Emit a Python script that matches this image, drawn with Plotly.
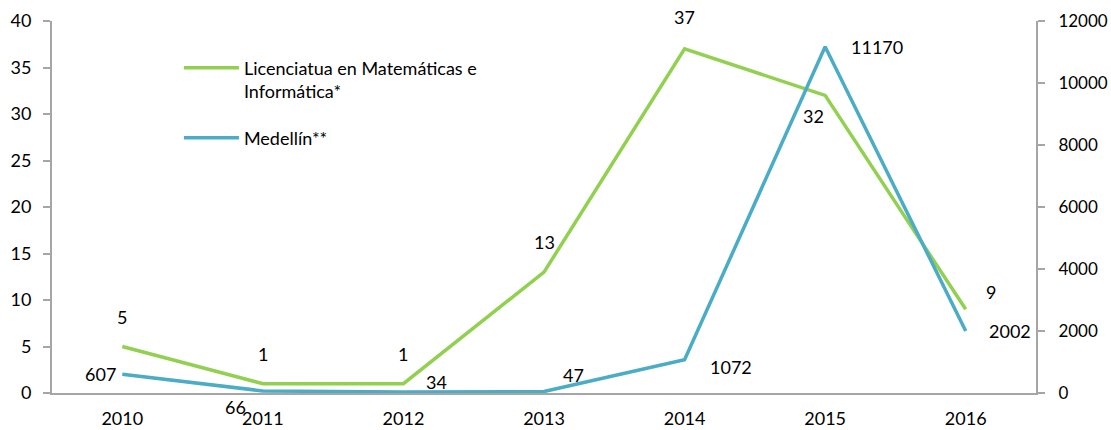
import plotly.graph_objects as go

years = ["2010", "2011", "2012", "2013", "2014", "2015", "2016"]
licenciatura = [5, 1, 1, 13, 37, 32, 9]
medellin = [607, 66, 34, 47, 1072, 11170, 2002]
left_ticks = [0, 5, 10, 15, 20, 25, 30, 35, 40]
right_ticks = [0, 2000, 4000, 6000, 8000, 10000, 12000]

GREEN = "#92D050"
BLUE = "#4BACC6"
AXIS = "#A6A6A6"
FONT = "Lato"
FS = 18

fig = go.Figure()
fig.add_trace(go.Scatter(x=years, y=licenciatura, mode="lines", legendgroup="a",
                         name="Licenciatua en Matemáticas e<br>Informática*",
                         line=dict(color=GREEN, width=3.5)))
fig.add_trace(go.Scatter(x=years, y=medellin, mode="lines", name="Medellín**",
                         legendgroup="b",
                         yaxis="y2", line=dict(color=BLUE, width=3.5)))

# label offsets (pixels) for each point
g_off = [(0, 30), (0, 30), (0, 30), (0, 30), (0, 32), (-12, -21), (25, 17)]
b_off = [(-22, 0), (-27, -16), (33, 10), (29, 17), (46, -7), (52, 0), (44, 0)]
for i, v in enumerate(licenciatura):
    fig.add_annotation(x=i, y=v, text=str(v), showarrow=False,
                       xshift=g_off[i][0], yshift=g_off[i][1],
                       font=dict(family=FONT, size=FS, color="#000"))
for i, v in enumerate(medellin):
    fig.add_annotation(x=i, y=v, yref="y2", text=str(v), showarrow=False,
                       xshift=b_off[i][0], yshift=b_off[i][1],
                       font=dict(family=FONT, size=FS, color="#000"))

fig.update_layout(
    width=1111, height=430,
    margin=dict(l=52, r=75, t=21, b=37),
    paper_bgcolor="white", plot_bgcolor="white",
    font=dict(family=FONT, size=FS, color="#000"),
    showlegend=True,
    legend=dict(x=0.129, y=0.923, xanchor="left", yanchor="top",
                bgcolor="rgba(0,0,0,0)", font=dict(size=FS), valign="top",
                tracegroupgap=20, itemwidth=55),
    xaxis=dict(type="category", range=[-0.5, 6.5], showgrid=False,
               showline=True, linecolor=AXIS, linewidth=2, ticks="",
               tickfont=dict(size=FS), zeroline=False, automargin=False,
               ticklabelstandoff=8),
    yaxis=dict(range=[0, 40], tickvals=left_ticks, showgrid=False,
               showline=True, linecolor=AXIS, linewidth=2, ticks="outside",
               ticklen=7, tickcolor=AXIS, tickwidth=2, zeroline=False,
               tickfont=dict(size=FS), automargin=False, ticklabelstandoff=8),
    yaxis2=dict(range=[0, 12000], tickvals=right_ticks, tickformat="d",
                overlaying="y", automargin=False, ticklabelstandoff=10,
                side="right", showgrid=False, showline=True, linecolor=AXIS,
                linewidth=2, ticks="outside", ticklen=7, tickcolor=AXIS,
                tickwidth=2, zeroline=False, tickfont=dict(size=17)),
)

fig.write_html(
    "out.html",
    config={"displayModeBar": False},
    post_script="document.body.style.margin='0';document.body.style.overflow='hidden';",
)
